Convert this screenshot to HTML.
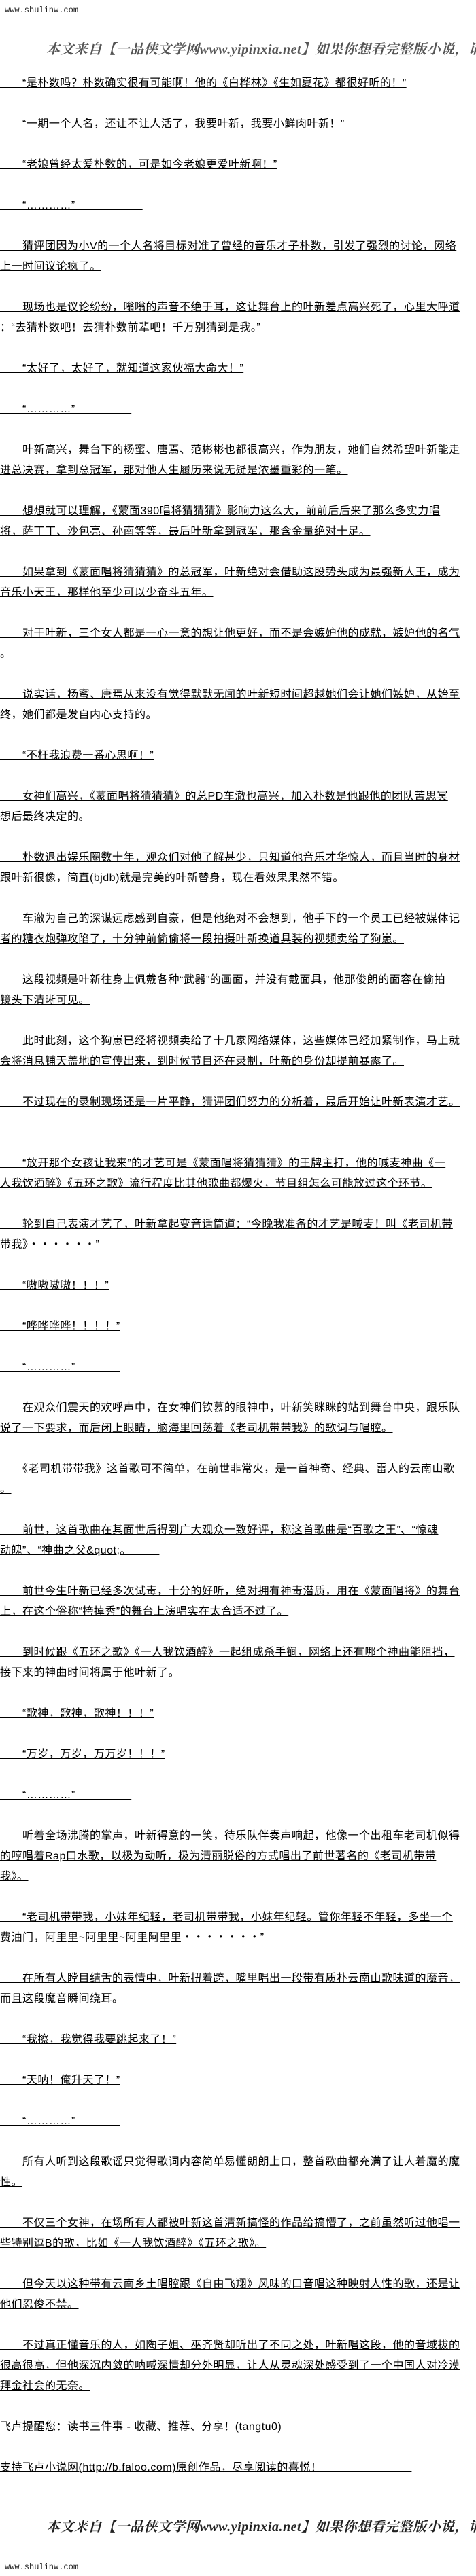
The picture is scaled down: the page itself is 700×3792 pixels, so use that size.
<!DOCTYPE html>
<html><head><meta charset="utf-8">
<style>
html,body{margin:0;padding:0;background:#fff;}
body{width:700px;height:3792px;position:relative;overflow:hidden;font-family:"Liberation Sans","Noto Sans CJK SC",sans-serif;color:#000;}
.site{position:absolute;left:7px;font-family:"Liberation Mono","Noto Sans CJK SC",monospace;font-size:12px;line-height:14px;color:#222;}
.banner{position:absolute;left:68px;white-space:nowrap;font-family:"Liberation Serif","Noto Serif CJK SC",serif;font-style:italic;font-weight:bold;font-size:20px;line-height:26px;color:#555;letter-spacing:0.5px;}
.flow{position:absolute;left:0;top:108px;width:700px;}
.flow div{font-size:16px;line-height:30px;letter-spacing:0.5px;white-space:nowrap;margin-bottom:30px;}
.flow div span{text-decoration:underline;}
.gap{height:30px;margin:0!important;}
</style></head><body>
<div class="site" style="top:8px">www.shulinw.com</div>
<div class="banner" style="top:60px">本文来自【一品侠文学网www.yipinxia.net】如果你想看完整版小说，请</div>

<div class="flow">
<div><span>　　“是朴数吗？朴数确实很有可能啊！他的《白桦林》《生如夏花》都很好听的！”</span></div>
<div><span>　　“一期一个人名，还让不让人活了，我要叶新，我要小鲜肉叶新！”</span></div>
<div><span>　　“老娘曾经太爱朴数的，可是如今老娘更爱叶新啊！”</span></div>
<div><span>　　“…………”　　　　　　</span></div>
<div><span>　　猜评团因为小V的一个人名将目标对准了曾经的音乐才子朴数，引发了强烈的讨论，网络<br>上一时间议论疯了。</span></div>
<div><span>　　现场也是议论纷纷，嗡嗡的声音不绝于耳，这让舞台上的叶新差点高兴死了，心里大呼道<br>：“去猜朴数吧！去猜朴数前辈吧！千万别猜到是我。”</span></div>
<div><span>　　“太好了，太好了，就知道这家伙福大命大！”</span></div>
<div><span>　　“…………”　　　　　</span></div>
<div><span>　　叶新高兴，舞台下的杨蜜、唐焉、范彬彬也都很高兴，作为朋友，她们自然希望叶新能走<br>进总决赛，拿到总冠军，那对他人生履历来说无疑是浓墨重彩的一笔。</span></div>
<div><span>　　想想就可以理解，《蒙面390唱将猜猜猜》影响力这么大，前前后后来了那么多实力唱<br>将，萨丁丁、沙包亮、孙南等等，最后叶新拿到冠军，那含金量绝对十足。</span></div>
<div><span>　　如果拿到《蒙面唱将猜猜猜》的总冠军，叶新绝对会借助这股势头成为最强新人王，成为<br>音乐小天王，那样他至少可以少奋斗五年。</span></div>
<div><span>　　对于叶新，三个女人都是一心一意的想让他更好，而不是会嫉妒他的成就，嫉妒他的名气<br>。</span></div>
<div><span>　　说实话，杨蜜、唐焉从来没有觉得默默无闻的叶新短时间超越她们会让她们嫉妒，从始至<br>终，她们都是发自内心支持的。</span></div>
<div><span>　　“不枉我浪费一番心思啊！”</span></div>
<div><span>　　女神们高兴，《蒙面唱将猜猜猜》的总PD车澈也高兴，加入朴数是他跟他的团队苦思冥<br>想后最终决定的。</span></div>
<div><span>　　朴数退出娱乐圈数十年，观众们对他了解甚少，只知道他音乐才华惊人，而且当时的身材<br>跟叶新很像，简直(bjdb)就是完美的叶新替身，现在看效果果然不错。　　</span></div>
<div><span>　　车澈为自己的深谋远虑感到自豪，但是他绝对不会想到，他手下的一个员工已经被媒体记<br>者的糖衣炮弹攻陷了，十分钟前偷偷将一段拍摄叶新换道具装的视频卖给了狗崽。</span></div>
<div><span>　　这段视频是叶新往身上佩戴各种“武器”的画面，并没有戴面具，他那俊朗的面容在偷拍<br>镜头下清晰可见。</span></div>
<div><span>　　此时此刻，这个狗崽已经将视频卖给了十几家网络媒体，这些媒体已经加紧制作，马上就<br>会将消息铺天盖地的宣传出来，到时候节目还在录制，叶新的身份却提前暴露了。</span></div>
<div><span>　　不过现在的录制现场还是一片平静，猜评团们努力的分析着，最后开始让叶新表演才艺。</span></div>
<div class="gap"></div>
<div><span>　　“放开那个女孩让我来”的才艺可是《蒙面唱将猜猜猜》的王牌主打，他的喊麦神曲《一<br>人我饮酒醉》《五环之歌》流行程度比其他歌曲都爆火，节目组怎么可能放过这个环节。</span></div>
<div><span>　　轮到自己表演才艺了，叶新拿起变音话筒道：“今晚我准备的才艺是喊麦！叫《老司机带<br>带我》・・・・・・”</span></div>
<div><span>　　“嗷嗷嗷嗷！！！”</span></div>
<div><span>　　“哗哗哗哗！！！！”</span></div>
<div><span>　　“…………”　　　　</span></div>
<div><span>　　在观众们震天的欢呼声中，在女神们钦慕的眼神中，叶新笑眯眯的站到舞台中央，跟乐队<br>说了一下要求，而后闭上眼睛，脑海里回荡着《老司机带带我》的歌词与唱腔。</span></div>
<div><span>　　《老司机带带我》这首歌可不简单，在前世非常火，是一首神奇、经典、雷人的云南山歌<br>。</span></div>
<div><span>　　前世，这首歌曲在其面世后得到广大观众一致好评，称这首歌曲是“百歌之王”、“惊魂<br>动魄”、“神曲之父&amp;quot;。　　　</span></div>
<div><span>　　前世今生叶新已经多次试毒，十分的好听，绝对拥有神毒潜质，用在《蒙面唱将》的舞台<br>上，在这个俗称“挎掉秀”的舞台上演唱实在太合适不过了。</span></div>
<div><span>　　到时候跟《五环之歌》《一人我饮酒醉》一起组成杀手锏，网络上还有哪个神曲能阻挡，<br>接下来的神曲时间将属于他叶新了。</span></div>
<div><span>　　“歌神，歌神，歌神！！！”</span></div>
<div><span>　　“万岁，万岁，万万岁！！！”</span></div>
<div><span>　　“…………”　　　　　</span></div>
<div><span>　　听着全场沸腾的掌声，叶新得意的一笑，待乐队伴奏声响起，他像一个出租车老司机似得<br>的哼唱着Rap口水歌，以极为动听，极为清丽脱俗的方式唱出了前世著名的《老司机带带<br>我》。</span></div>
<div><span>　　“老司机带带我，小妹年纪轻，老司机带带我，小妹年纪轻。管你年轻不年轻，多坐一个<br>费油门，阿里里~阿里里~阿里阿里里・・・・・・・”</span></div>
<div><span>　　在所有人瞠目结舌的表情中，叶新扭着跨，嘴里唱出一段带有质朴云南山歌味道的魔音，<br>而且这段魔音瞬间绕耳。</span></div>
<div><span>　　“我擦，我觉得我要跳起来了！”</span></div>
<div><span>　　“天呐！俺升天了！”</span></div>
<div><span>　　“…………”　　　　</span></div>
<div><span>　　所有人听到这段歌谣只觉得歌词内容简单易懂朗朗上口，整首歌曲都充满了让人着魔的魔<br>性。</span></div>
<div><span>　　不仅三个女神，在场所有人都被叶新这首清新搞怪的作品给搞懵了，之前虽然听过他唱一<br>些特别逗B的歌，比如《一人我饮酒醉》《五环之歌》。</span></div>
<div><span>　　但今天以这种带有云南乡土唱腔跟《自由飞翔》风味的口音唱这种映射人性的歌，还是让<br>他们忍俊不禁。</span></div>
<div><span>　　不过真正懂音乐的人，如陶子姐、巫齐贤却听出了不同之处，叶新唱这段，他的音域拔的<br>很高很高，但他深沉内敛的呐喊深情却分外明显，让人从灵魂深处感受到了一个中国人对冷漠<br>拜金社会的无奈。 </span></div>
<div><span>飞卢提醒您：读书三件事 - 收藏、推荐、分享！(tangtu0)　　　　　　　</span></div>
<div><span>支持飞卢小说网(http://b.faloo.com)原创作品，尽享阅读的喜悦！　　　　　　　　</span></div>
</div>

<div class="banner" style="top:3707px;color:#222;">本文来自【一品侠文学网www.yipinxia.net】如果你想看完整版小说，请</div>
<div class="site" style="top:3772px">www.shulinw.com</div>
</body></html>
